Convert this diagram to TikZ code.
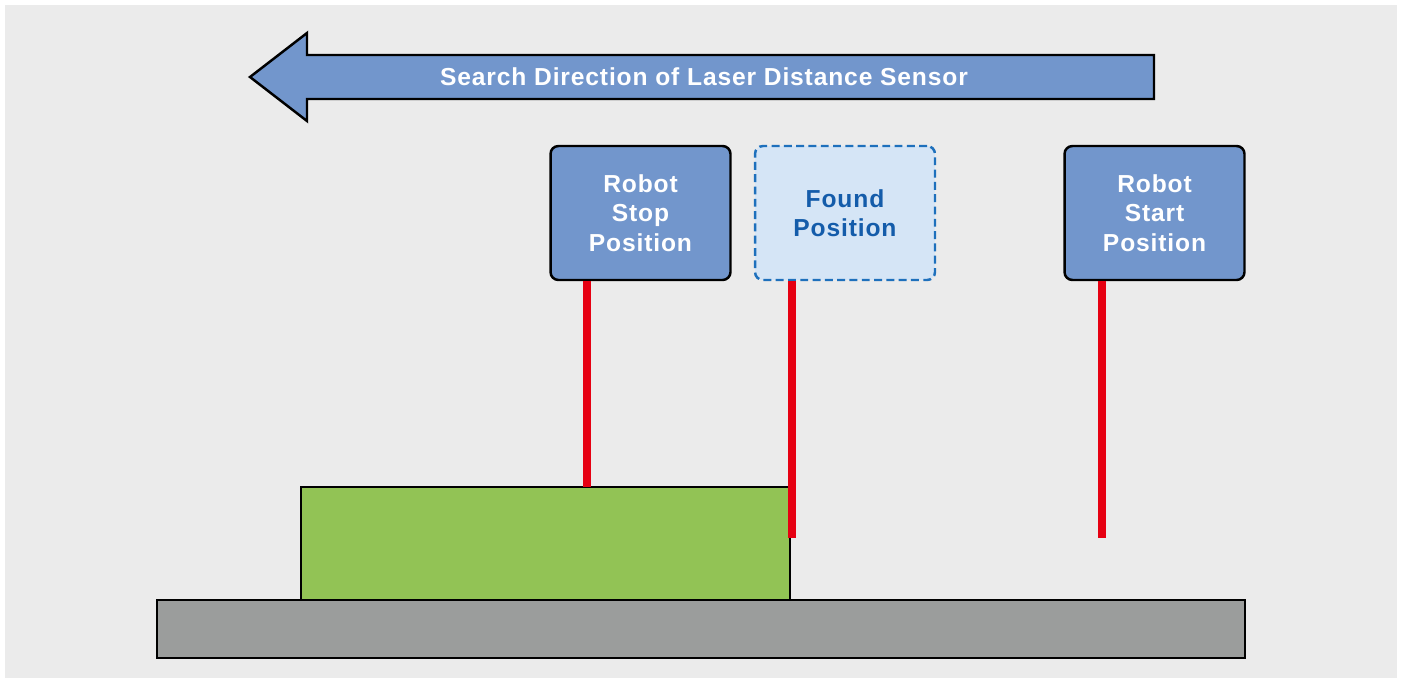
\documentclass[tikz,border=0pt]{standalone}
\usepackage{fontspec}
\setmainfont{Liberation Sans}
\newfontfamily\labelfont[LetterSpace=3.5]{Liberation Sans}
\usepackage{tikz}
\usetikzlibrary{positioning,calc}
\definecolor{lsblue}{RGB}{114,150,204}
\definecolor{lslight}{RGB}{213,229,246}
\definecolor{lsdash}{RGB}{30,112,188}
\definecolor{lstext}{RGB}{20,92,170}
\definecolor{lsgreen}{RGB}{146,195,85}
\definecolor{lsgrey}{RGB}{155,157,156}
\definecolor{lsred}{RGB}{230,0,18}
\definecolor{lspanel}{RGB}{235,235,235}

\begin{document}
\begin{tikzpicture}[
  x=0.02cm, y=-0.02cm,
  posbox/.style={rounded corners=4.5pt, draw, line width=1.4pt, align=center,
    minimum width=3.6cm, minimum height=2.68cm, inner sep=0pt, fill=lsblue,
    text=white, font=\labelfont\fontsize{14}{16.8}\selectfont\bfseries},
  foundbox/.style={posbox, draw=lsdash, dash pattern=on 4.5pt off 2.5pt,
    fill=lslight, text=lstext},
  laser/.style={draw=lsred, line width=4.3pt},
  outline/.style={draw, line width=1.4pt}
]
  \useasboundingbox (0,0) rectangle (1403,683);
  \fill[lspanel] (5,5) rectangle (1397,678);

  % --- Search direction arrow ---
  \draw[outline, fill=lsblue] (250,77) -- (307,33) -- (307,55) -- (1154,55)
    -- (1154,99) -- (307,99) -- (307,121) -- cycle;
  \node[text=white, font=\labelfont\fontsize{14}{16.8}\selectfont\bfseries]
    (search) at (704,77) {Search Direction of Laser Distance Sensor};

  % --- Position boxes ---
  \node[posbox]   (stop)  at (640.5,213) {Robot\\Stop\\Position};
  \node[foundbox] (found) at (845,213)   {Found\\Position};
  \node[posbox]   (start) at (1154.5,213) {Robot\\Start\\Position};

  % --- Workpiece and base ---
  \draw[outline, fill=lsgrey]  (157,600) rectangle (1245,658);
  \draw[outline, fill=lsgreen] (301,487) rectangle (790,600);

  % --- Laser beams ---
  \coordinate (stopend)  at (587,487);
  \coordinate (foundend) at (792,538);
  \coordinate (startend) at (1102,538);
  \draw[laser] (stopend |- stop.south)   -- (stopend);
  \draw[laser] (foundend |- found.south) -- (foundend);
  \draw[laser] (startend |- start.south) -- (startend);
\end{tikzpicture}
\end{document}
